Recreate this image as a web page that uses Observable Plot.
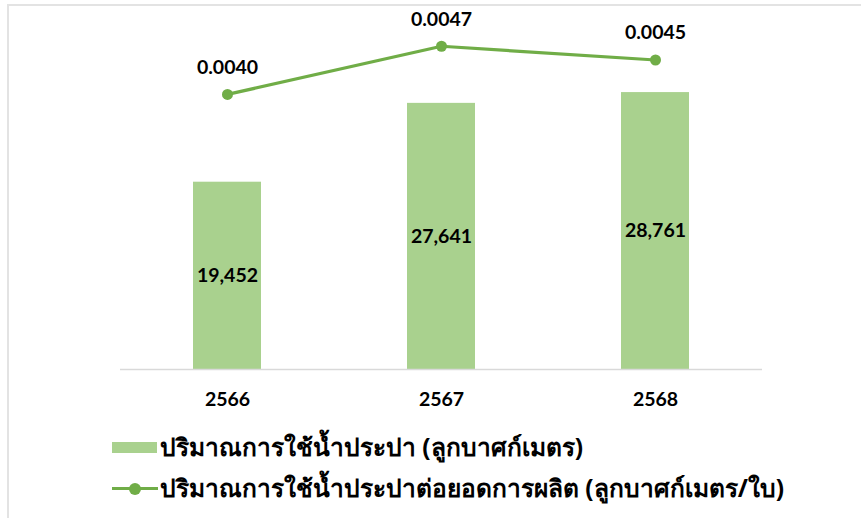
<!DOCTYPE html>
<html>
<head>
<meta charset="utf-8">
<script src="https://cdn.jsdelivr.net/npm/d3@7"></script>
<script src="https://cdn.jsdelivr.net/npm/@observablehq/plot@0.6"></script>
<style>
  html, body { margin: 0; padding: 0; background: #fff; }
  #page { position: relative; width: 861px; height: 518px; overflow: hidden; background: #fff; }
  #frame { position: absolute; left: 7px; top: 4px; right: -10px; bottom: -10px;
           border-top: 2px solid #e3e3e3; border-left: 2px solid #e3e3e3; }
  .layer { position: absolute; left: 0; top: 0; }
  #legend { position: absolute; left: 112px; top: 427px; font-family: "Noto Sans", "Lato", sans-serif;
            font-weight: bold; font-size: 24.5px; color: #000; }
  .item { display: flex; align-items: center; height: 41px; }
  .sw { width: 45px; height: 11px; background: #a9d18e; margin-right: 3px; }
  .ln { position: relative; width: 46px; height: 3px; background: #70ad47; margin-right: 2px; }
  .ln::after { content: ""; position: absolute; left: 17px; top: -4.5px; width: 12px; height: 12px;
               border-radius: 50%; background: #70ad47; }
</style>
</head>
<body>
<div id="page">
  <div id="frame"></div>
  <div id="chart"></div>
  <div id="legend"></div>
</div>
<script>
// Data
const years = ["2566", "2567", "2568"];
const waterUse = [19452, 27641, 28761];           // ลูกบาศก์เมตร
const waterPerUnit = [0.0040, 0.0047, 0.0045];    // ลูกบาศก์เมตร/ใบ
const seriesNames = [
  "ปริมาณการใช้น้ำประปา (ลูกบาศก์เมตร)",
  "ปริมาณการใช้น้ำประปาต่อยอดการผลิต (ลูกบาศก์เมตร/ใบ)"
];

const data = years.map((y, i) => ({year: y, water: waterUse[i], rate: waterPerUnit[i]}));

const W = 861, H = 425;
const common = {
  width: W, height: H,
  marginLeft: 120, marginRight: 99, marginTop: 32, marginBottom: 56,
  x: {type: "band", domain: years, paddingInner: 0.682, paddingOuter: 0.341},
  style: {fontFamily: "Lato, 'Noto Sans', sans-serif", background: "transparent", overflow: "visible"}
};

const bars = Plot.plot({
  ...common,
  y: {domain: [0, 35000], axis: null},
  marks: [
    Plot.barY(data, {x: "year", y: "water", fill: "#a9d18e"}),
    Plot.ruleY([0], {stroke: "#d9d9d9", strokeWidth: 1.5}),
    Plot.axisX({tickSize: 0, tickPadding: 23, fontSize: 19.5, fontWeight: "bold", fill: "#000", label: null}),
    Plot.text(data, {x: "year", y: d => d.water / 2, text: d => d3.format(",")(d.water),
      fontSize: 19.5, fontWeight: "bold", fill: "#000"})
  ]
});

const line = Plot.plot({
  ...common,
  y: {domain: [0, 0.0049], axis: null},
  x: {...common.x, axis: null},
  marks: [
    Plot.line(data, {x: "year", y: "rate", stroke: "#70ad47", strokeWidth: 3.2}),
    Plot.dot(data, {x: "year", y: "rate", r: 5.5, fill: "#70ad47", stroke: "none"}),
    Plot.text(data, {x: "year", y: "rate", text: d => d.rate.toFixed(4), dy: -27,
      fontSize: 19.5, fontWeight: "bold", fill: "#000"})
  ]
});

bars.classList.add("layer");
line.classList.add("layer");
const chart = document.getElementById("chart");
chart.appendChild(bars);
chart.appendChild(line);

const legend = document.getElementById("legend");
legend.innerHTML = `
  <div class="item"><span class="sw"></span><span>${seriesNames[0]}</span></div>
  <div class="item"><span class="ln"></span><span>${seriesNames[1]}</span></div>`;
</script>
</body>
</html>
